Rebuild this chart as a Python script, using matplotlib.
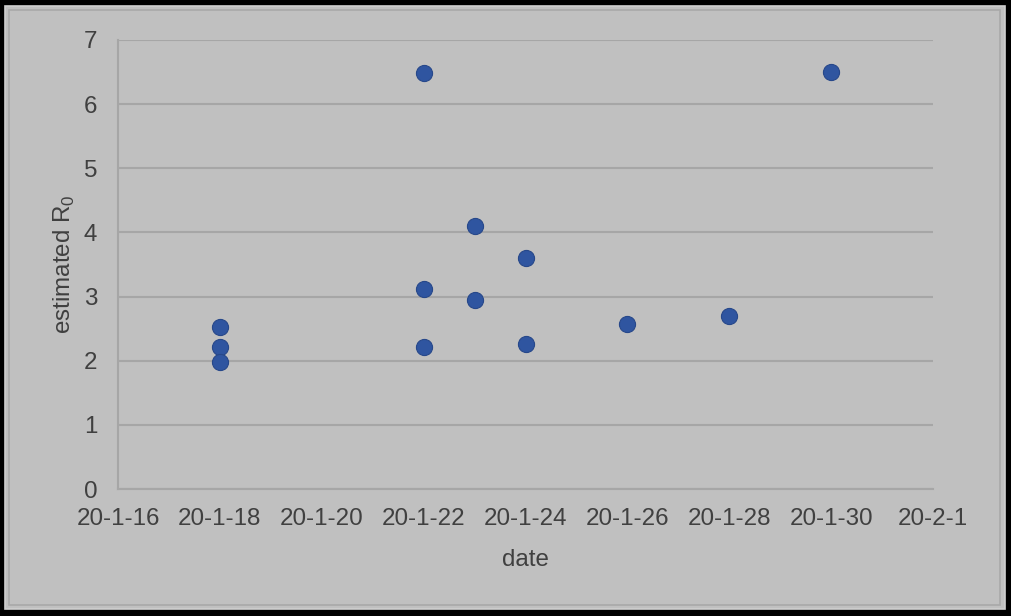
import datetime as dt
import matplotlib
matplotlib.use("Agg")
import matplotlib.pyplot as plt
import matplotlib.dates as mdates
from matplotlib.patches import Rectangle

# Datos
fechas = ["2020-01-18", "2020-01-18", "2020-01-18",
          "2020-01-22", "2020-01-22", "2020-01-22",
          "2020-01-23", "2020-01-23",
          "2020-01-24", "2020-01-24",
          "2020-01-26", "2020-01-28", "2020-01-30"]
r0 = [2.53, 2.21, 1.98,
      6.49, 3.12, 2.21,
      4.10, 2.95,
      3.60, 2.26,
      2.57, 2.70, 6.50]

fechas_dt = [dt.datetime.strptime(f, "%Y-%m-%d") for f in fechas]

plt.rcParams["font.family"] = ["Liberation Sans", "DejaVu Sans"]
plt.rcParams["mathtext.fontset"] = "custom"
plt.rcParams["mathtext.rm"] = "Liberation Sans"

gris = "#c0c0c0"
texto = "#404040"

fig = plt.figure(figsize=(10.12, 6.16), dpi=100)
fig.patch.set_facecolor("black")

# Marco gris
fig.add_artist(Rectangle((5 / 1012, 7 / 616), 1000 / 1012, 603 / 616,
                         transform=fig.transFigure, facecolor=gris,
                         edgecolor="#cfcfcf", linewidth=1.2, zorder=-2))
fig.add_artist(Rectangle((9.5 / 1012, 11.5 / 616), 991 / 1012, 595 / 616,
                         transform=fig.transFigure, facecolor="none",
                         edgecolor="#a9a9a9", linewidth=1.2, zorder=-1))

ax = fig.add_axes([118 / 1012, 1 - 489 / 616, (933 - 118) / 1012, (489 - 40) / 616])
ax.set_facecolor("none")

ax.scatter(fechas_dt, r0, s=135, color="#2f55a0", edgecolors="#27488a",
           linewidths=0.8, zorder=3)

ax.set_xlim(dt.datetime(2020, 1, 16), dt.datetime(2020, 2, 1))
ax.set_ylim(0, 7)
ax.xaxis.set_major_locator(mdates.DayLocator(bymonthday=[1, 16, 18, 20, 22, 24, 26, 28, 30]))
ax.xaxis.set_major_formatter(plt.FuncFormatter(
    lambda v, p: "{}-{}-{}".format(mdates.num2date(v).year % 100,
                                   mdates.num2date(v).month,
                                   mdates.num2date(v).day)))
ax.set_yticks(range(0, 8))

ax.grid(axis="y", color="#a6a6a6", linewidth=1.5, zorder=1)
for s in ["top", "right"]:
    ax.spines[s].set_visible(False)
ax.spines["left"].set_color("#a6a6a6")
ax.spines["bottom"].set_color("#a6a6a6")
ax.spines["left"].set_linewidth(1.5)
ax.spines["bottom"].set_linewidth(1.5)
ax.tick_params(length=0, labelsize=17.4, colors=texto, pad=13.5)
ax.tick_params(axis="y", pad=15)

ax.set_xlabel("date", fontsize=17.4, color=texto, labelpad=14)
ax.set_ylabel("estimated R$_\\mathregular{0}$", fontsize=17.4, color=texto, labelpad=5)

fig.savefig("out.png", dpi=100, facecolor=fig.get_facecolor())
